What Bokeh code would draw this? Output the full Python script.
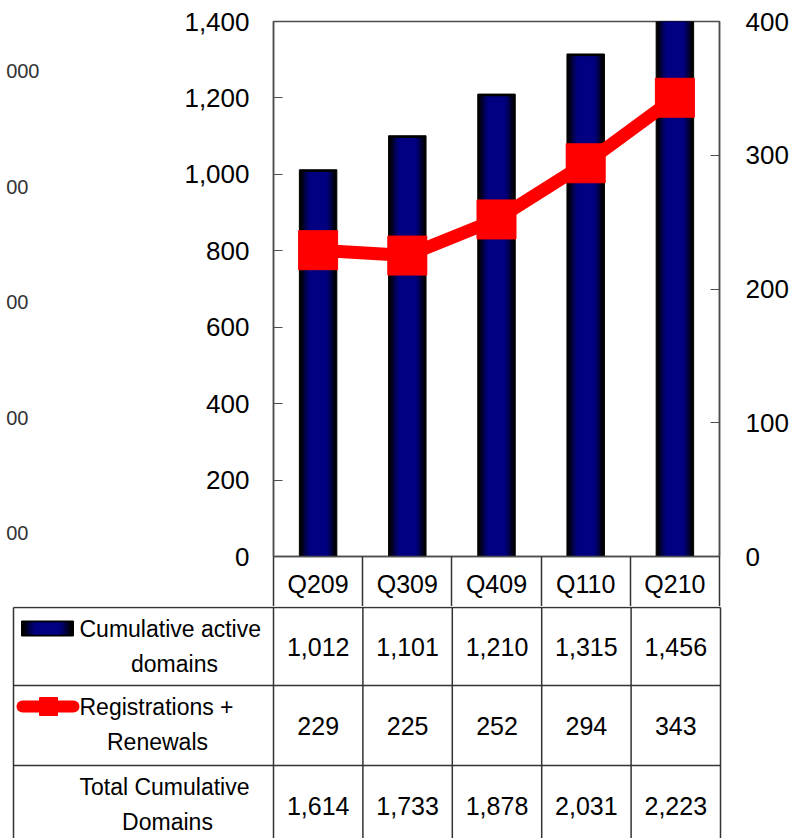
from bokeh.plotting import figure
from bokeh.models import Range1d, LinearAxis, FixedTicker, NumeralTickFormatter
from bokeh.layouts import column
from bokeh.embed import file_html
from bokeh.resources import INLINE
from bokeh.core.properties import value

# ---------------- data ----------------
categories = ["Q209", "Q309", "Q409", "Q110", "Q210"]
active_domains = [1012, 1101, 1210, 1315, 1456]
registrations_renewals = [229, 225, 252, 294, 343]
total_domains = [1614, 1733, 1878, 2031, 2223]
left_ticks = [0, 200, 400, 600, 800, 1000, 1200, 1400]
right_ticks = [0, 100, 200, 300, 400]
row_line1 = ["Cumulative active", "Registrations +", "Total Cumulative"]
row_line2 = ["domains", "Renewals", "Domains"]
# cut-off tick labels of a neighbouring chart at the far left edge
ghost_ticks = [486, 370, 255, 139, 24]
ghost_labels = ["000", "00\u2007", "00\u2007", "00\u2007", "00\u2007"]

# ---------------- layout constants ----------------
FONT = "Liberation Sans"
W = 791
TOP_H = 606
TAB_H = 232
FRAME_H = 535
NAVY_LAYERS = [(1.00, "#000000", 0), (0.88, "#00001e", 6), (0.76, "#000044", 6),
               (0.63, "#000066", 6), (0.50, "#000080", 6)]
BAR_W = 0.42
GRID_COL = "#333333"
HEADER_H = 50

xs = [i + 0.5 for i in range(len(categories))]

p = figure(width=W, height=TOP_H, x_range=Range1d(0, len(categories)),
           y_range=Range1d(left_ticks[0], left_ticks[-1]),
           output_backend="svg", toolbar_location=None,
           min_border_left=273, min_border_right=71, min_border_top=21,
           min_border_bottom=HEADER_H)
p.frame_align = False
p.extra_y_ranges = {"right": Range1d(right_ticks[0], right_ticks[-1]),
                    "ghost": Range1d(0, FRAME_H)}
p.outline_line_color = "#4d4d4d"
p.outline_line_width = 1.5
p.xgrid.visible = False
p.ygrid.visible = False
p.background_fill_color = "white"
p.border_fill_color = "white"

# bars with horizontal gradient (layered)
for frac, col, inset in NAVY_LAYERS:
    tops = [v - inset for v in active_domains]
    p.vbar(x=xs, top=tops, bottom=0, width=BAR_W * frac, fill_color=col,
           line_color="#000000" if frac == 1.0 else None, line_width=1)

# red line with square markers on right axis
p.line(xs, registrations_renewals, y_range_name="right", line_color="#ff0000",
       line_width=13)
p.scatter(xs, registrations_renewals, y_range_name="right", marker="square",
          size=39, fill_color="#ff0000", line_color="#ff0000")

def style_axis(ax, standoff, size="26px"):
    ax.major_label_text_font = FONT
    ax.major_label_text_font_size = size
    ax.major_label_text_color = "#000000"
    ax.major_label_standoff = standoff
    ax.axis_line_color = "#4d4d4d"
    ax.axis_line_width = 1.5

# left axis
ya = p.yaxis[0]
ya.ticker = FixedTicker(ticks=left_ticks)
ya.formatter = NumeralTickFormatter(format="0,0")
ya.major_tick_in = 9
ya.major_tick_out = 0
ya.major_tick_line_color = "#4d4d4d"
ya.minor_tick_line_color = None
style_axis(ya, 24)

# ghost axis (far left, cut by the edge)
ga = LinearAxis(y_range_name="ghost", ticker=FixedTicker(ticks=ghost_ticks))
ga.major_label_overrides = {t: s for t, s in zip(ghost_ticks, ghost_labels)}
ga.axis_line_color = None
ga.major_tick_line_color = None
ga.minor_tick_line_color = None
ga.major_label_text_font = FONT
ga.major_label_text_font_size = "20px"
ga.major_label_text_color = "#333333"
ga.major_label_standoff = 136
p.add_layout(ga, "left")

# right axis
ra = LinearAxis(y_range_name="right", ticker=FixedTicker(ticks=right_ticks))
ra.major_tick_in = 9
ra.major_tick_out = 0
ra.major_tick_line_color = "#4d4d4d"
ra.minor_tick_line_color = None
style_axis(ra, 26)
p.add_layout(ra, "right")

# x axis -> header row of the table
xa = p.xaxis[0]
xa.ticker = FixedTicker(ticks=xs, minor_ticks=list(range(len(categories) + 1)))
xa.major_label_overrides = {x: c for x, c in zip(xs, categories)}
xa.major_tick_in = 0
xa.major_tick_out = 0
xa.minor_tick_in = 0
xa.minor_tick_out = HEADER_H
xa.minor_tick_line_color = GRID_COL
xa.minor_tick_line_width = 1.5
style_axis(xa, 13 - HEADER_H, "25px")

# ---------------- data table ----------------
t = figure(width=W, height=TAB_H, x_range=Range1d(0, W), y_range=Range1d(838, 606),
           output_backend="svg", toolbar_location=None, min_border=0,
           x_axis_location=None, y_axis_location=None)
t.frame_align = False
t.xgrid.visible = False
t.ygrid.visible = False
t.outline_line_color = None

TAB_L, COL0, TAB_R = 13, 273, 720
COLW = (TAB_R - COL0) / len(categories)
row_tops = [607, 685, 765]
row_bottom = 845
col_edges = [COL0 + i * COLW for i in range(len(categories) + 1)]
col_centers = [COL0 + (i + 0.5) * COLW for i in range(len(categories))]

t.segment(x0=[TAB_L] * len(row_tops), y0=row_tops, x1=[TAB_R] * len(row_tops), y1=row_tops,
          line_color=GRID_COL, line_width=1.5)
vxs = [TAB_L] + col_edges
t.segment(x0=vxs, y0=[row_tops[0]] * len(vxs), x1=vxs, y1=[row_bottom] * len(vxs),
          line_color=GRID_COL, line_width=1.5)

rows = [active_domains, registrations_renewals, total_domains]
for r, vals in enumerate(rows):
    top = row_tops[r]
    bot = row_tops[r + 1] if r + 1 < len(row_tops) else row_tops[r] + 80
    yc = (top + bot) / 2
    t.text(x=col_centers, y=[yc] * len(vals), text=[f"{v:,}" for v in vals],
           text_align="center", text_baseline="middle", text_font=value(FONT),
           text_font_size="25px", text_color="#000000")

label_x1 = 79
label_c2 = [174, 157, 167]
for r in range(3):
    top = row_tops[r]
    t.text(x=[label_x1], y=[top + 21], text=[row_line1[r]], text_align="left",
           text_baseline="middle", text_font=value(FONT), text_font_size="23px",
           text_color="#000000")
    t.text(x=[label_c2[r]], y=[top + 56], text=[row_line2[r]], text_align="center",
           text_baseline="middle", text_font=value(FONT), text_font_size="23px",
           text_color="#000000")

# legend swatches
SW_X, SW_Y = 47, 628
for frac, col, inset in NAVY_LAYERS:
    t.rect(x=[SW_X], y=[SW_Y], width=52 * frac, height=15 if frac == 1.0 else 12,
           fill_color=col, line_color="#000000" if frac == 1.0 else None)
t.line([22, 73], [706, 706], line_color="#ff0000", line_width=12, line_cap="round")
t.scatter([48], [706], marker="square", size=18, fill_color="#ff0000", line_color="#ff0000")

layout = column(p, t)
open("out.html", "w").write(file_html(layout, INLINE))
